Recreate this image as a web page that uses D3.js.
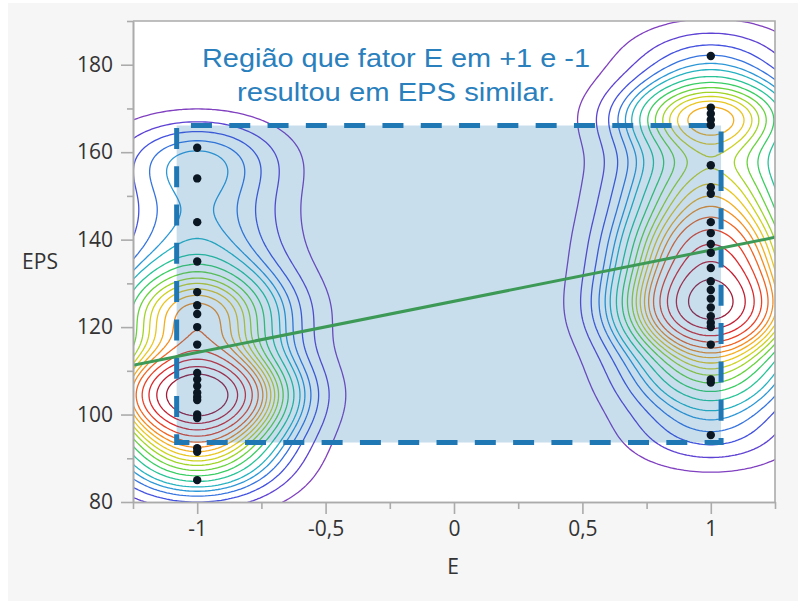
<!DOCTYPE html>
<html>
<head>
<meta charset="utf-8">
<script src="https://cdn.jsdelivr.net/npm/d3@7.9.0/dist/d3.min.js"></script>
<style>
  body { margin: 0; background: #fff; }
  svg { display: block; }
</style>
</head>
<body>
<div id="chart"></div>
<script>
// EPS readings at each level of factor E
const epsAtMinus1 = [161, 154, 144, 135, 128, 125, 123, 120, 116, 109.5, 108, 106.5, 105, 104, 103.3, 100, 99.2, 92.3, 91.5, 85];
const epsAtPlus1 = [182, 170.2, 168.8, 167.4, 166.2, 157, 152, 150.5, 144, 141.5, 139, 137, 133.5, 130.5, 128.5, 126.5, 124.5, 122.5, 121, 120, 116, 108, 107.3, 95.3];

// linear fit (intercept, slope)
const fitCoef = [125.9, 11.7];

// ticks
const xMajor = [-1, -0.5, 0, 0.5, 1];
const xMinor = [-1.25, -0.75, -0.25, 0.25, 0.75, 1.25];
const yMajor = [80, 100, 120, 140, 160, 180];
const yMinor = [90, 110, 130, 150, 170, 190];

// annotation box, in data units
const boxE = [-1.08, 1.04];
const boxEPS = [93.6, 166.1];
const noteLines = ["Região que fator E em +1 e -1", "resultou em EPS similar."];

// density quantile levels (5% steps, like JMP nonpar density)
const quantLevels = d3.range(1, 20).map(i => i * 0.05);

const points = [
  ...epsAtMinus1.map(v => ({ e: -1, eps: v })),
  ...epsAtPlus1.map(v => ({ e: 1, eps: v }))
];

const width = 798;
const height = 601;
const plot = { left: 133, right: 775, top: 21, bottom: 502 };

const svg = d3.select('#chart')
  .append('svg')
  .attr('width', width)
  .attr('height', height);

// gray page background
svg.append('rect')
  .attr('x', 8).attr('y', 3)
  .attr('width', width - 8).attr('height', height - 3)
  .attr('fill', '#f6f6f6');

svg.append('rect')
  .attr('x', plot.left).attr('y', plot.top)
  .attr('width', plot.right - plot.left)
  .attr('height', plot.bottom - plot.top)
  .attr('fill', '#fff');

const xScale = d3.scaleLinear().domain([-1.25, 1.25]).range([plot.left, plot.right]);
const yScale = d3.scaleLinear().domain([80, 190]).range([plot.bottom, plot.top]);

svg.append('clipPath').attr('id', 'clip')
  .append('rect')
  .attr('x', plot.left).attr('y', plot.top)
  .attr('width', plot.right - plot.left)
  .attr('height', plot.bottom - plot.top);

// --- kernel density on a grid ---
const hx = 0.24, hy = 6.3;
const gx0 = -2.5, gx1 = 2.5, gy0 = 20, gy1 = 250;
const nx = 400, ny = 460;
const dx = (gx1 - gx0) / nx, dy = (gy1 - gy0) / ny;
const grid = new Float64Array(nx * ny);

points.forEach(p => {
  const kx = d3.range(nx).map(i => {
    const u = (gx0 + (i + 0.5) * dx - p.e) / hx;
    return Math.exp(-0.5 * u * u);
  });
  for (let j = 0; j < ny; j++) {
    const v = (gy0 + (j + 0.5) * dy - p.eps) / hy;
    const ky = Math.exp(-0.5 * v * v);
    if (ky < 1e-9) continue;
    for (let i = 0; i < nx; i++) grid[i + j * nx] += kx[i] * ky;
  }
});

const sorted = Array.from(grid).sort((a, b) => a - b);
const total = d3.sum(sorted);
const thresholds = [];
let cum = 0, q = 0;
for (let k = 0; k < sorted.length && q < quantLevels.length; k++) {
  cum += sorted[k];
  while (q < quantLevels.length && cum / total >= quantLevels[q]) {
    thresholds.push(sorted[k]);
    q++;
  }
}

const contours = d3.contours().size([nx, ny]).thresholds(thresholds)(grid);

const gridToPx = d3.geoTransform({
  point(x, y) {
    this.stream.point(xScale(gx0 + x * dx), yScale(gy0 + y * dy));
  }
});
const path = d3.geoPath(gridToPx);

const color = d3.scaleSequential(d3.interpolateRgbBasis([
  '#8040c0', '#4040e6', '#3090e0', '#20c0c0', '#30d050',
  '#a8d820', '#f0d020', '#f8a020', '#f05020', '#e02030', '#a01c38'
])).domain([0, thresholds.length - 1]);

svg.append('g')
  .attr('clip-path', 'url(#clip)')
  .selectAll('path')
  .data(contours)
  .join('path')
  .attr('d', path)
  .attr('fill', 'none')
  .attr('stroke', (d, i) => color(i))
  .attr('stroke-width', 1.3);

// --- annotation box ---
const bx0 = xScale(boxE[0]), bx1 = xScale(boxE[1]);
const by0 = yScale(boxEPS[1]), by1 = yScale(boxEPS[0]);
svg.append('rect')
  .attr('x', bx0).attr('y', by0)
  .attr('width', bx1 - bx0).attr('height', by1 - by0)
  .attr('fill', '#1f77b4')
  .attr('fill-opacity', 0.24);
svg.append('rect')
  .attr('x', bx0).attr('y', by0)
  .attr('width', bx1 - bx0).attr('height', by1 - by0)
  .attr('fill', 'none')
  .attr('stroke', '#1f78b4')
  .attr('stroke-width', 5)
  .attr('stroke-dasharray', '21,17.3')
  .attr('stroke-dashoffset', 24);

// --- fit line ---
svg.append('line')
  .attr('clip-path', 'url(#clip)')
  .attr('x1', xScale(-1.25)).attr('y1', yScale(fitCoef[0] - 1.25 * fitCoef[1]))
  .attr('x2', xScale(1.25)).attr('y2', yScale(fitCoef[0] + 1.25 * fitCoef[1]))
  .attr('stroke', '#3d9a56')
  .attr('stroke-width', 3);

// --- points ---
svg.append('g')
  .selectAll('circle')
  .data(points)
  .join('circle')
  .attr('cx', d => xScale(d.e))
  .attr('cy', d => yScale(d.eps))
  .attr('r', 4.2)
  .attr('fill', '#0b1722');

// --- frame and axes ---
const axisColor = '#ababab';
svg.append('path')
  .attr('d', `M${plot.left},${plot.top}H${plot.right}V${plot.bottom}`)
  .attr('fill', 'none')
  .attr('stroke', axisColor)
  .attr('stroke-width', 1.6);

const fmt = d => String(d).replace('.', ',');

function styleAxis(g) {
  g.select('.domain').attr('stroke', axisColor).attr('stroke-width', 1.6);
  g.selectAll('.tick line').attr('stroke', axisColor).attr('stroke-width', 1.6);
  g.selectAll('.tick text')
    .attr('fill', '#333')
    .style('font-family', '"Open Sans", sans-serif')
    .style('font-size', '21px');
}

svg.append('g')
  .attr('transform', `translate(0,${plot.bottom})`)
  .call(d3.axisBottom(xScale).tickValues(xMinor).tickSize(7).tickFormat('').tickSizeOuter(0))
  .call(styleAxis);
svg.append('g')
  .attr('transform', `translate(0,${plot.bottom})`)
  .call(d3.axisBottom(xScale).tickValues(xMajor).tickSize(12).tickPadding(7).tickFormat(fmt).tickSizeOuter(0))
  .call(styleAxis);

svg.append('g')
  .attr('transform', `translate(${plot.left},0)`)
  .call(d3.axisLeft(yScale).tickValues(yMinor).tickSize(6).tickFormat('').tickSizeOuter(0))
  .call(styleAxis);
svg.append('g')
  .attr('transform', `translate(${plot.left},0)`)
  .call(d3.axisLeft(yScale).tickValues(yMajor).tickSize(12).tickPadding(8).tickSizeOuter(0))
  .call(styleAxis);

svg.append('text')
  .attr('x', 453).attr('y', 574)
  .attr('text-anchor', 'middle')
  .attr('fill', '#333')
  .style('font-family', '"Open Sans", sans-serif')
  .style('font-size', '21px')
  .text('E');

svg.append('text')
  .attr('x', 40).attr('y', 269)
  .attr('text-anchor', 'middle')
  .attr('fill', '#333')
  .style('font-family', '"Open Sans", sans-serif')
  .style('font-size', '21px')
  .text('EPS');

// --- note text ---
const noteWidths = [388, 318];
svg.append('g')
  .selectAll('text')
  .data(noteLines)
  .join('text')
  .attr('x', 396)
  .attr('y', (d, i) => 67 + i * 34)
  .attr('text-anchor', 'middle')
  .attr('textLength', (d, i) => noteWidths[i])
  .attr('lengthAdjust', 'spacingAndGlyphs')
  .attr('fill', '#2a80bd')
  .style('font-family', '"Liberation Sans", Arial, sans-serif')
  .style('font-size', '26px')
  .text(d => d);
</script>
</body>
</html>
